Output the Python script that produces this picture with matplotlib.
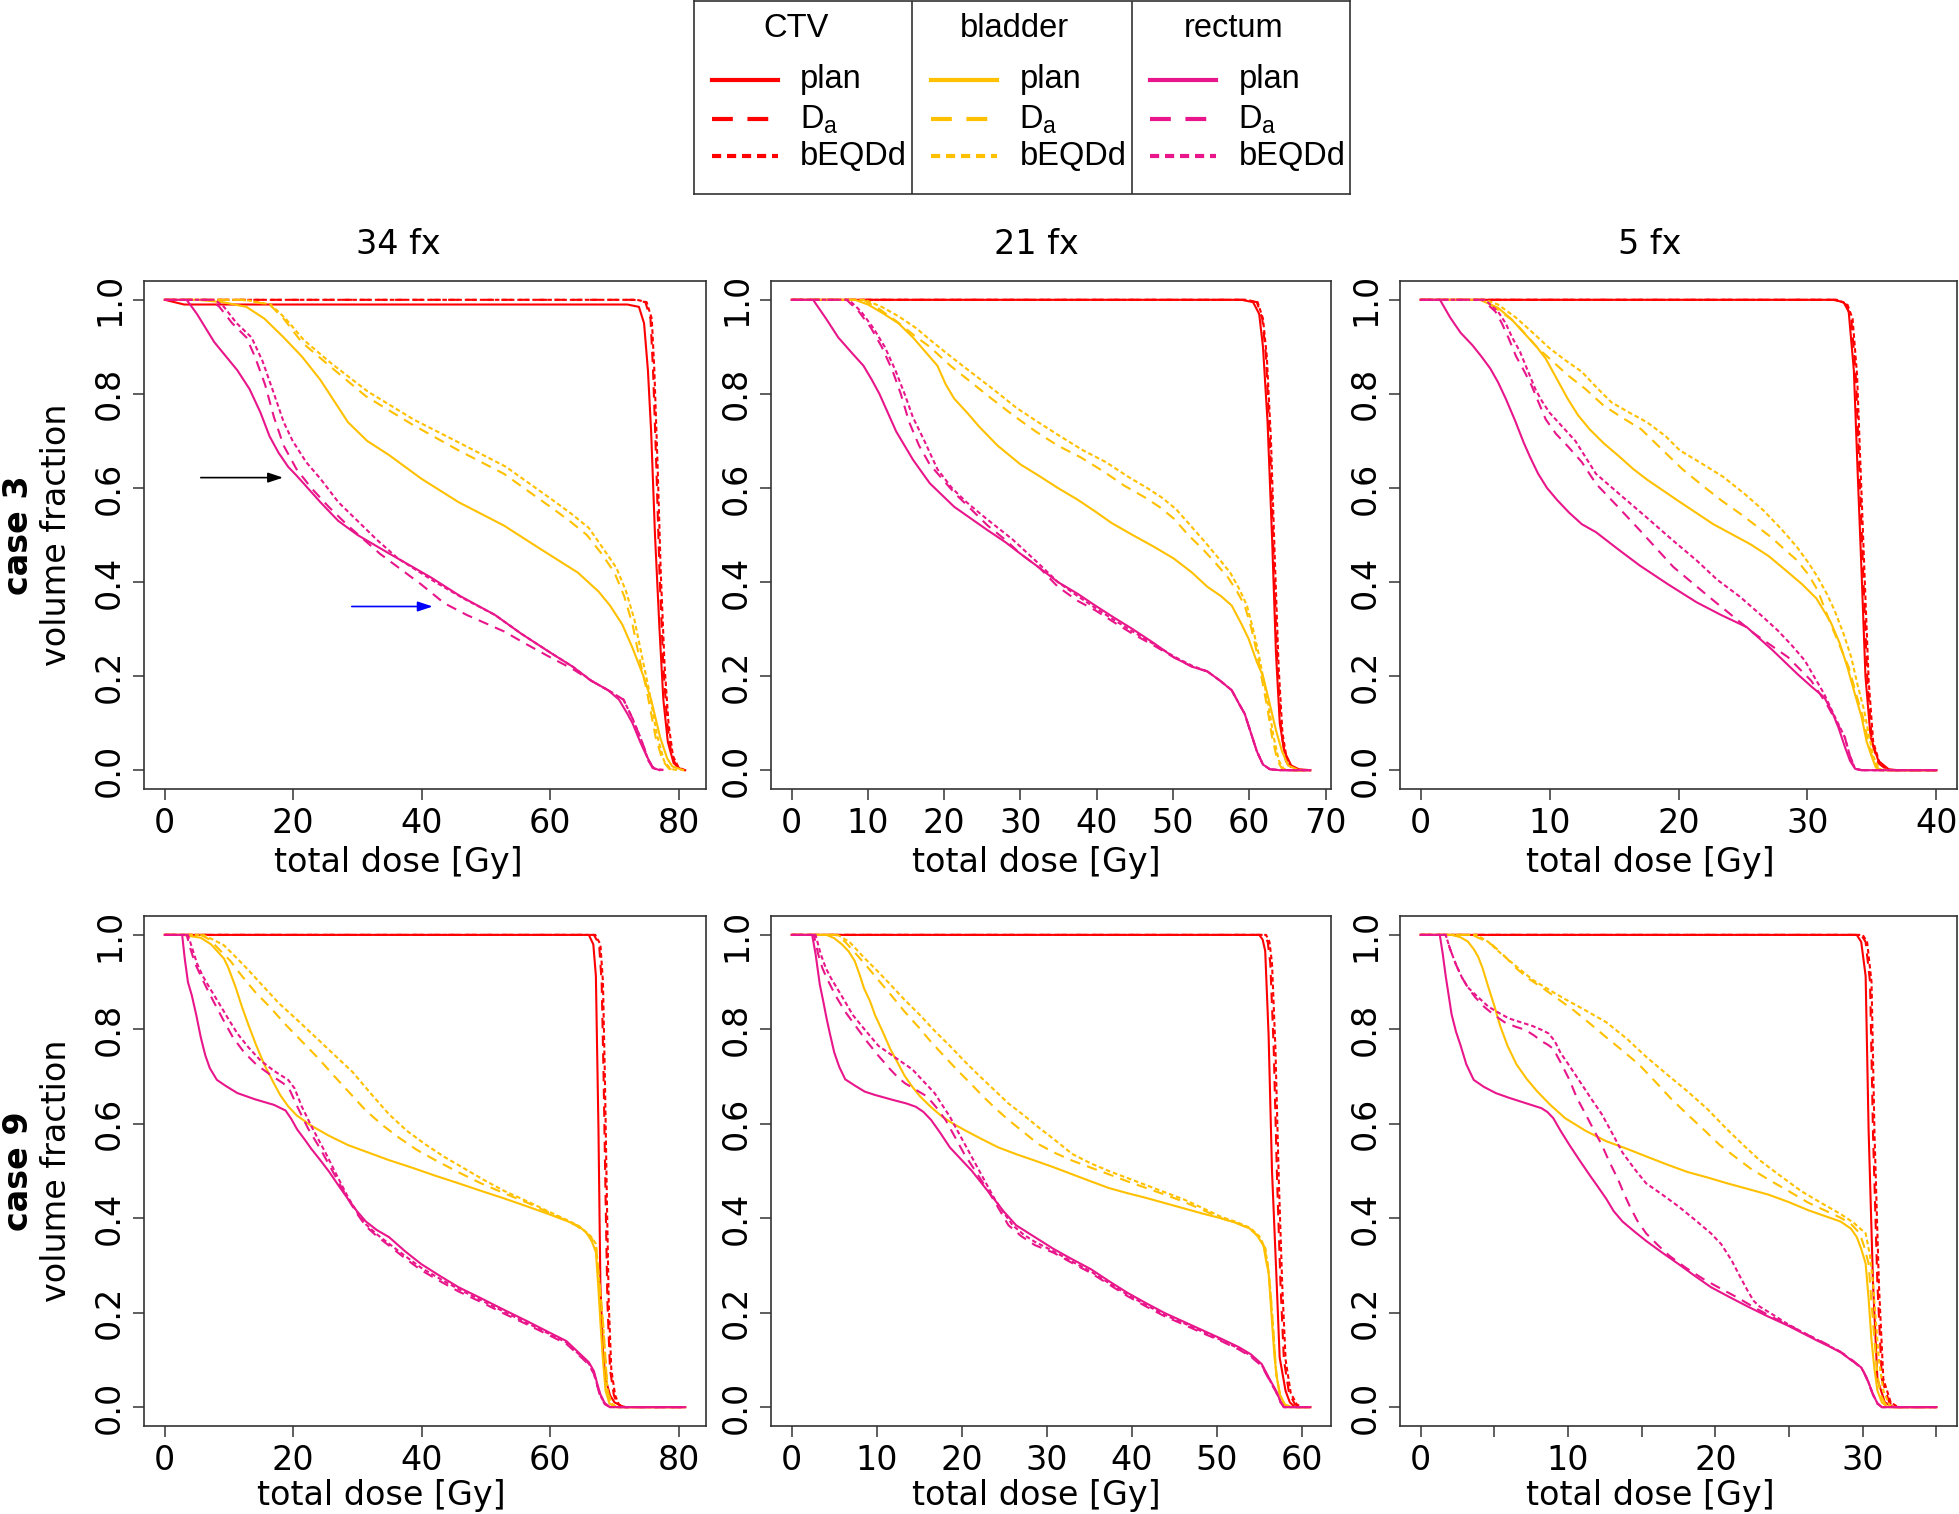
import matplotlib
matplotlib.use("Agg")
import matplotlib.pyplot as plt

# ---- data: cumulative DVHs, (dose [Gy], volume fraction) ----
# case 3, 34 fx
c3_34_ctv_plan = [(0, 1), (3, 0.99), (72, 0.99), (73.8, 0.985), (74.6, 0.95), (75.2, 0.85), (75.7, 0.72), (76.3, 0.5), (77, 0.3), (77.6, 0.15), (78.3, 0.06), (79.2, 0.015), (80.3, 0.002), (81, 0)]
c3_34_ctv_da = [(0, 1), (73, 1), (74.8, 0.995), (75.6, 0.96), (76, 0.85), (76.5, 0.65), (77, 0.42), (77.6, 0.22), (78.2, 0.1), (78.9, 0.03), (79.8, 0.005), (80.5, 0), (81, 0)]
c3_34_ctv_bq = [(0, 1), (73.5, 1), (75, 0.995), (75.8, 0.96), (76.2, 0.85), (76.7, 0.65), (77.2, 0.42), (77.8, 0.22), (78.4, 0.1), (79.1, 0.03), (80, 0.005), (81, 0)]
c3_34_bl_plan = [(0, 1), (5, 1), (9, 0.995), (12.7, 0.985), (15.5, 0.96), (18.5, 0.92), (21.3, 0.88), (24.2, 0.83), (28.5, 0.74), (31.5, 0.7), (34.9, 0.67), (39.9, 0.62), (45.7, 0.57), (52.8, 0.52), (58.5, 0.47), (64.3, 0.42), (67.5, 0.38), (69.3, 0.35), (71.2, 0.31), (72.8, 0.26), (74.5, 0.2), (75.7, 0.15), (77.1, 0.07), (78.2, 0.025), (79, 0.008), (80.7, 0)]
c3_34_bl_da = [(0, 1), (12, 1), (16.3, 0.99), (18.5, 0.96), (21.3, 0.91), (25.6, 0.86), (31.3, 0.795), (38.5, 0.735), (45.7, 0.68), (52.8, 0.63), (60, 0.56), (63, 0.53), (65.7, 0.5), (68, 0.46), (70, 0.42), (71.5, 0.37), (72.8, 0.31), (74, 0.23), (75, 0.17), (76.4, 0.07), (77.5, 0.02), (78.5, 0.003), (79.5, 0)]
c3_34_bl_bq = [(0, 1), (12.5, 1), (16.5, 0.99), (18.8, 0.96), (21.6, 0.915), (25.9, 0.865), (31.6, 0.805), (38.8, 0.745), (46, 0.695), (53.1, 0.645), (60.3, 0.575), (63.3, 0.545), (66, 0.515), (68.3, 0.47), (70.3, 0.43), (71.8, 0.38), (73.1, 0.32), (74.3, 0.24), (75.3, 0.175), (76.6, 0.075), (77.7, 0.02), (78.7, 0.003), (79.8, 0)]
c3_34_re_plan = [(0, 1), (3.4, 1), (5, 0.97), (7.7, 0.91), (11.3, 0.85), (13.2, 0.81), (14.9, 0.76), (16.3, 0.71), (17.7, 0.675), (19.2, 0.645), (20.6, 0.625), (24.2, 0.57), (27, 0.53), (30, 0.5), (35, 0.46), (41.4, 0.41), (46, 0.37), (51.4, 0.33), (55.5, 0.29), (60, 0.25), (63.5, 0.22), (66.4, 0.19), (69, 0.17), (70.7, 0.15), (72, 0.12), (72.8, 0.1), (74, 0.06), (75, 0.03), (76, 0.005), (77, 0)]
c3_34_re_da = [(0, 1), (7.2, 1), (8.5, 0.985), (10.5, 0.95), (12.7, 0.92), (14, 0.88), (15.6, 0.82), (17, 0.75), (18.5, 0.69), (20.5, 0.64), (22.8, 0.6), (25.5, 0.56), (28.5, 0.52), (33.5, 0.46), (39.9, 0.395), (43.5, 0.355), (47, 0.33), (52.8, 0.295), (56, 0.27), (60, 0.24), (63.5, 0.215), (66.4, 0.19), (69, 0.17), (71.4, 0.15), (72.8, 0.11), (74.3, 0.06), (75.3, 0.02), (76, 0.003), (77.5, 0)]
c3_34_re_bq = [(0, 1), (7.8, 1), (9.2, 0.985), (11.2, 0.95), (13.5, 0.92), (15.2, 0.87), (17, 0.8), (18.5, 0.74), (19.9, 0.7), (22, 0.655), (24.2, 0.62), (27, 0.57), (30, 0.53), (33, 0.49), (36.3, 0.45), (42.1, 0.4), (46.5, 0.365), (51.4, 0.33), (55.5, 0.29), (60, 0.25), (63.5, 0.22), (66.4, 0.19), (69, 0.17), (71.4, 0.15), (72.8, 0.11), (74.3, 0.06), (75.3, 0.02), (76.2, 0.003), (78, 0)]

# case 3, 21 fx
c3_21_ctv_plan = [(0, 1), (59, 1), (60.5, 0.995), (61.3, 0.97), (61.8, 0.9), (62.4, 0.74), (63, 0.49), (63.5, 0.25), (64, 0.1), (64.6, 0.04), (65.5, 0.01), (66.5, 0.002), (68, 0)]
c3_21_ctv_da = [(0, 1), (59.5, 1), (61, 0.995), (61.7, 0.96), (62.2, 0.88), (62.7, 0.7), (63.2, 0.45), (63.7, 0.22), (64.2, 0.08), (64.8, 0.02), (65.5, 0), (68, 0)]
c3_21_ctv_bq = [(0, 1), (59.6, 1), (61.1, 0.995), (61.8, 0.96), (62.3, 0.88), (62.85, 0.7), (63.35, 0.45), (63.85, 0.22), (64.35, 0.08), (64.95, 0.02), (65.7, 0), (68, 0)]
c3_21_bl_plan = [(0, 1), (8.3, 1), (10, 0.99), (12.1, 0.97), (14, 0.95), (15.9, 0.92), (17.5, 0.89), (19.1, 0.86), (20.2, 0.82), (21.3, 0.79), (23, 0.76), (24.6, 0.73), (27, 0.69), (30, 0.65), (32.5, 0.625), (34.9, 0.6), (37.5, 0.575), (39.8, 0.55), (42, 0.525), (44.7, 0.5), (47.5, 0.475), (50.1, 0.45), (52.5, 0.42), (54.5, 0.39), (56.3, 0.37), (57.7, 0.35), (59, 0.31), (59.9, 0.28), (61, 0.23), (61.8, 0.2), (62.7, 0.14), (63.5, 0.085), (64.3, 0.04), (65.1, 0.01), (66.5, 0), (68, 0)]
c3_21_bl_da = [(0, 1), (9.4, 1), (11.5, 0.98), (13.7, 0.955), (16, 0.925), (18.1, 0.9), (20.8, 0.86), (23.5, 0.825), (26.2, 0.79), (29, 0.755), (32, 0.72), (34.9, 0.69), (37.9, 0.665), (40.9, 0.635), (43.6, 0.605), (46.3, 0.58), (48.2, 0.56), (50.1, 0.535), (52, 0.5), (53.9, 0.47), (55.6, 0.44), (57.2, 0.41), (58.4, 0.38), (59.4, 0.35), (60.3, 0.3), (61, 0.25), (61.7, 0.19), (62.4, 0.13), (63, 0.07), (63.7, 0.02), (64.3, 0.003), (65, 0), (68, 0)]
c3_21_bl_bq = [(0, 1), (9.6, 1), (11.8, 0.985), (14, 0.965), (16.3, 0.94), (18.5, 0.91), (21.2, 0.875), (24, 0.84), (26.8, 0.805), (29.5, 0.77), (32.3, 0.74), (35.2, 0.71), (38.2, 0.68), (41.2, 0.655), (44, 0.625), (46.6, 0.6), (48.5, 0.58), (50.4, 0.555), (52.3, 0.52), (54.2, 0.485), (56, 0.45), (57.5, 0.42), (58.7, 0.385), (59.7, 0.35), (60.5, 0.3), (61.2, 0.25), (61.9, 0.19), (62.6, 0.13), (63.2, 0.07), (63.9, 0.02), (64.5, 0.003), (65.3, 0), (68, 0)]
c3_21_re_plan = [(0, 1), (2.8, 1), (4.5, 0.96), (6.1, 0.92), (8, 0.885), (9.4, 0.86), (10.5, 0.83), (11.5, 0.8), (12.6, 0.76), (13.7, 0.72), (14.8, 0.69), (15.9, 0.66), (17, 0.635), (18.1, 0.61), (19.7, 0.585), (21.3, 0.56), (23.5, 0.535), (25.7, 0.51), (28, 0.485), (30, 0.46), (32.5, 0.43), (34.9, 0.4), (37.5, 0.375), (39.8, 0.35), (42.2, 0.325), (44.7, 0.3), (47.5, 0.27), (50.1, 0.24), (52.5, 0.22), (54.5, 0.21), (56.2, 0.19), (57.7, 0.17), (58.7, 0.14), (59.4, 0.12), (60.2, 0.08), (61, 0.04), (61.8, 0.012), (62.7, 0.002), (64, 0), (68, 0)]
c3_21_re_da = [(0, 1), (7.2, 1), (8.8, 0.975), (10.4, 0.94), (11.8, 0.9), (13.2, 0.85), (14.3, 0.8), (15.4, 0.74), (16.7, 0.69), (18.1, 0.65), (19.7, 0.62), (21.3, 0.59), (23.5, 0.555), (25.7, 0.52), (28, 0.49), (30, 0.46), (32.5, 0.43), (34.9, 0.39), (37.5, 0.36), (39.8, 0.34), (42.2, 0.315), (44.7, 0.29), (47.5, 0.265), (50.1, 0.24), (52.5, 0.22), (54.5, 0.21), (56.2, 0.19), (57.7, 0.17), (58.7, 0.14), (59.4, 0.12), (60.2, 0.08), (61, 0.04), (61.8, 0.012), (62.7, 0.002), (64, 0), (68, 0)]
c3_21_re_bq = [(0, 1), (7.5, 1), (9.1, 0.975), (10.7, 0.94), (12.2, 0.9), (13.6, 0.85), (14.8, 0.8), (15.9, 0.75), (17.4, 0.7), (19.1, 0.64), (21, 0.6), (22.9, 0.57), (25.5, 0.535), (29, 0.49), (32, 0.445), (34.9, 0.4), (37.5, 0.37), (39.8, 0.345), (42.2, 0.32), (44.7, 0.295), (47.5, 0.268), (50.1, 0.242), (52.5, 0.222), (54.5, 0.21), (56.2, 0.19), (57.7, 0.17), (58.7, 0.14), (59.4, 0.12), (60.2, 0.08), (61, 0.04), (61.8, 0.012), (62.7, 0.002), (64, 0), (68, 0)]

# case 3, 5 fx
c3_5_ctv_plan = [(0, 1), (32, 1), (32.8, 0.995), (33.2, 0.975), (33.6, 0.85), (33.9, 0.63), (34.2, 0.42), (34.5, 0.2), (34.9, 0.07), (35.5, 0.02), (36.3, 0.002), (37, 0), (40, 0)]
c3_5_ctv_da = [(0, 1), (32.2, 1), (33, 0.99), (33.4, 0.96), (33.75, 0.84), (34.05, 0.62), (34.35, 0.4), (34.65, 0.19), (35, 0.06), (35.5, 0.015), (36.2, 0), (40, 0)]
c3_5_ctv_bq = [(0, 1), (32.3, 1), (33.1, 0.99), (33.5, 0.96), (33.85, 0.84), (34.15, 0.62), (34.45, 0.4), (34.75, 0.19), (35.1, 0.06), (35.6, 0.015), (36.3, 0), (40, 0)]
c3_5_bl_plan = [(0, 1), (4.6, 1), (6, 0.983), (7, 0.96), (8, 0.93), (9, 0.9), (9.7, 0.875), (10.6, 0.83), (11.4, 0.79), (12.2, 0.755), (13.1, 0.725), (14.2, 0.695), (15.4, 0.667), (16.5, 0.64), (17.6, 0.617), (19.9, 0.574), (22.7, 0.523), (25.6, 0.48), (27, 0.455), (28.4, 0.423), (29.6, 0.395), (30.7, 0.365), (31.8, 0.315), (32.5, 0.27), (33.1, 0.219), (33.7, 0.16), (34.2, 0.113), (34.6, 0.06), (35, 0.028), (35.3, 0.006), (35.6, 0), (40, 0)]
c3_5_bl_da = [(0, 1), (4.8, 1), (5.2, 0.994), (6.2, 0.975), (7.2, 0.955), (8.2, 0.925), (9.1, 0.897), (10.2, 0.87), (11.4, 0.84), (12.8, 0.81), (14.2, 0.775), (15.6, 0.75), (17.1, 0.725), (18.6, 0.685), (20.3, 0.64), (22, 0.602), (23.4, 0.572), (24.8, 0.545), (26, 0.52), (27.2, 0.495), (28.2, 0.47), (29.2, 0.446), (30.1, 0.415), (30.8, 0.382), (31.8, 0.311), (32.5, 0.265), (33.2, 0.219), (33.8, 0.16), (34.3, 0.113), (34.8, 0.05), (35.1, 0.02), (35.5, 0.003), (35.8, 0), (40, 0)]
c3_5_bl_bq = [(0, 1), (5, 1), (6, 0.99), (7.4, 0.962), (8.7, 0.93), (10, 0.897), (11.2, 0.872), (12.5, 0.847), (13.6, 0.815), (14.8, 0.782), (16.2, 0.76), (17.6, 0.739), (19, 0.71), (20.1, 0.68), (21.8, 0.652), (23.5, 0.623), (25.1, 0.588), (26.6, 0.552), (28, 0.512), (29.2, 0.474), (30.1, 0.44), (30.8, 0.41), (31.5, 0.375), (32.1, 0.34), (32.8, 0.29), (33.4, 0.24), (33.9, 0.18), (34.4, 0.127), (34.8, 0.07), (35.1, 0.03), (35.5, 0.005), (35.8, 0), (40, 0)]
c3_5_re_plan = [(0, 1), (1.5, 1), (2.3, 0.962), (3.1, 0.93), (4, 0.904), (4.7, 0.88), (5.4, 0.854), (6, 0.825), (6.6, 0.79), (7.3, 0.745), (8, 0.696), (8.5, 0.665), (9.1, 0.631), (9.8, 0.6), (10.6, 0.574), (11.5, 0.548), (12.5, 0.523), (13.6, 0.506), (15.3, 0.47), (17, 0.435), (19.2, 0.395), (21.4, 0.357), (23.3, 0.33), (25.3, 0.304), (27.3, 0.255), (29.2, 0.205), (30.3, 0.178), (31.3, 0.155), (31.9, 0.125), (32.4, 0.091), (32.9, 0.05), (33.3, 0.02), (33.7, 0.003), (34.2, 0), (40, 0)]
c3_5_re_da = [(0, 1), (4.8, 1), (5.2, 0.99), (5.8, 0.975), (6.3, 0.95), (6.8, 0.92), (7.4, 0.88), (8, 0.85), (8.6, 0.818), (9.1, 0.785), (9.7, 0.746), (10.5, 0.715), (11.4, 0.689), (12.5, 0.655), (13.6, 0.609), (15.3, 0.56), (17, 0.51), (19.6, 0.432), (22.7, 0.361), (25.9, 0.29), (28.5, 0.24), (30.3, 0.19), (31.5, 0.14), (32.3, 0.1), (32.9, 0.07), (33.3, 0.03), (33.7, 0.003), (34.2, 0), (40, 0)]
c3_5_re_bq = [(0, 1), (5, 1), (5.4, 0.99), (6, 0.975), (6.6, 0.95), (7.1, 0.92), (7.7, 0.89), (8.3, 0.85), (8.9, 0.81), (9.4, 0.785), (10, 0.76), (11, 0.73), (12, 0.7), (13.6, 0.63), (15.5, 0.585), (17.5, 0.538), (19.5, 0.49), (21.4, 0.446), (23, 0.405), (24.8, 0.368), (26.3, 0.332), (27.7, 0.297), (28.8, 0.265), (29.8, 0.233), (30.6, 0.195), (31.3, 0.162), (32.1, 0.115), (32.9, 0.07), (33.3, 0.03), (33.7, 0.003), (34.2, 0), (40, 0)]

# case 9, 34 fx
c9_34_ctv_plan = [(0, 1), (66, 1), (66.7, 0.98), (67.1, 0.913), (67.3, 0.75), (67.5, 0.59), (67.8, 0.26), (68.2, 0.12), (68.6, 0.06), (69.3, 0.025), (70, 0.01), (71.4, 0), (81, 0)]
c9_34_ctv_da = [(0, 1), (66.8, 1), (67.6, 0.98), (68, 0.9), (68.3, 0.7), (68.6, 0.45), (68.9, 0.22), (69.3, 0.08), (69.9, 0.025), (70.5, 0.005), (71.5, 0), (81, 0)]
c9_34_ctv_bq = [(0, 1), (67, 1), (67.8, 0.98), (68.2, 0.9), (68.5, 0.7), (68.8, 0.45), (69.1, 0.22), (69.5, 0.08), (70.1, 0.025), (70.7, 0.005), (71.7, 0), (81, 0)]
c9_34_bl_plan = [(0, 1), (2.7, 1), (5.6, 0.994), (7.2, 0.98), (8.4, 0.962), (9.2, 0.95), (9.9, 0.93), (11, 0.89), (12, 0.848), (13, 0.81), (14.2, 0.767), (15.5, 0.725), (17, 0.685), (18, 0.66), (19.2, 0.637), (20.5, 0.618), (22.8, 0.596), (25.5, 0.575), (28.5, 0.555), (31.5, 0.54), (34.9, 0.523), (38.5, 0.507), (42.1, 0.49), (45.5, 0.475), (49.2, 0.458), (52.8, 0.442), (56.4, 0.425), (59.5, 0.41), (62.8, 0.393), (64.5, 0.383), (65.7, 0.368), (66.5, 0.35), (67.1, 0.328), (67.5, 0.25), (67.8, 0.18), (68.2, 0.1), (68.6, 0.035), (69.2, 0.008), (70, 0), (81, 0)]
c9_34_bl_da = [(0, 1), (5.6, 1), (7, 0.99), (8.4, 0.97), (10.2, 0.945), (12, 0.913), (14, 0.88), (16.3, 0.848), (18.8, 0.81), (21.3, 0.775), (23.8, 0.74), (26.3, 0.702), (28.8, 0.665), (31.3, 0.628), (33.8, 0.598), (36.3, 0.572), (39.2, 0.545), (42.1, 0.523), (45.6, 0.498), (49.2, 0.474), (52.8, 0.453), (56.4, 0.433), (59.6, 0.413), (62.8, 0.393), (64.2, 0.383), (65.3, 0.372), (66.3, 0.36), (67.1, 0.344), (67.6, 0.27), (68.2, 0.18), (68.6, 0.1), (68.9, 0.035), (69.5, 0.008), (70.3, 0), (81, 0)]
c9_34_bl_bq = [(0, 1), (6, 1), (7.5, 0.99), (9.2, 0.978), (10.9, 0.955), (12.7, 0.93), (15.2, 0.893), (17.7, 0.856), (20.6, 0.82), (23.5, 0.783), (26.3, 0.747), (29.2, 0.71), (32, 0.665), (34.9, 0.62), (37.7, 0.585), (40.6, 0.556), (43.5, 0.53), (46.4, 0.507), (49.8, 0.48), (52.8, 0.458), (56.4, 0.436), (59.6, 0.415), (62.8, 0.395), (64.2, 0.385), (65.3, 0.374), (66.3, 0.362), (67.1, 0.346), (67.6, 0.27), (68.2, 0.18), (68.6, 0.1), (68.9, 0.035), (69.5, 0.008), (70.3, 0), (81, 0)]
c9_34_re_plan = [(0, 1), (2.7, 1), (3.1, 0.95), (3.6, 0.9), (4.2, 0.872), (4.9, 0.83), (5.6, 0.783), (6.3, 0.745), (7, 0.718), (8.1, 0.693), (9.5, 0.68), (11.3, 0.665), (14, 0.652), (17, 0.64), (18.8, 0.628), (19.7, 0.61), (20.6, 0.588), (21.7, 0.568), (22.8, 0.547), (24.2, 0.523), (25.6, 0.498), (27, 0.47), (28.5, 0.441), (29.9, 0.415), (31.3, 0.393), (33, 0.375), (34.9, 0.36), (37.4, 0.33), (39.9, 0.303), (42.8, 0.278), (45.7, 0.254), (49.3, 0.23), (52.8, 0.206), (56.4, 0.182), (60, 0.157), (62.5, 0.14), (65, 0.108), (66, 0.095), (66.8, 0.076), (67.3, 0.05), (67.8, 0.027), (68.5, 0.008), (69.3, 0), (81, 0)]
c9_34_re_da = [(0, 1), (3.4, 1), (4, 0.97), (4.7, 0.94), (5.6, 0.913), (6.6, 0.885), (7.7, 0.856), (9.1, 0.82), (10.6, 0.783), (12.3, 0.752), (14.2, 0.726), (16.3, 0.705), (18.5, 0.685), (19.5, 0.67), (20.6, 0.637), (22.3, 0.59), (24.2, 0.547), (26.3, 0.495), (28.5, 0.441), (29.9, 0.41), (31.3, 0.383), (33, 0.362), (34.9, 0.342), (37.4, 0.315), (39.9, 0.29), (42.8, 0.267), (45.7, 0.245), (49.3, 0.222), (52.8, 0.198), (56.4, 0.175), (60, 0.151), (62.5, 0.134), (65, 0.103), (66, 0.09), (66.8, 0.07), (67.3, 0.045), (67.8, 0.022), (68.5, 0.006), (69.3, 0), (81, 0)]
c9_34_re_bq = [(0, 1), (3.6, 1), (4.3, 0.97), (5, 0.94), (5.9, 0.913), (7.1, 0.885), (8.4, 0.856), (9.8, 0.824), (11.3, 0.791), (13, 0.762), (14.9, 0.734), (17, 0.712), (19.2, 0.693), (20.2, 0.675), (21.3, 0.637), (23, 0.59), (25, 0.539), (26.8, 0.49), (28.5, 0.445), (29.9, 0.413), (31.3, 0.387), (33, 0.366), (34.9, 0.346), (37.4, 0.32), (39.9, 0.295), (42.8, 0.272), (45.7, 0.25), (49.3, 0.226), (52.8, 0.202), (56.4, 0.178), (60, 0.154), (62.5, 0.137), (65, 0.105), (66, 0.092), (66.8, 0.072), (67.3, 0.047), (67.8, 0.024), (68.5, 0.007), (69.3, 0), (81, 0)]

# case 9, 21 fx
c9_21_ctv_plan = [(0, 1), (55, 1), (55.4, 0.99), (55.7, 0.966), (56.1, 0.787), (56.5, 0.5), (57, 0.285), (57.4, 0.105), (58.1, 0.034), (58.6, 0.01), (59.2, 0), (61, 0)]
c9_21_ctv_da = [(0, 1), (55.6, 1), (56, 0.985), (56.3, 0.94), (56.7, 0.76), (57.1, 0.48), (57.5, 0.26), (57.9, 0.1), (58.5, 0.03), (59.2, 0.006), (59.8, 0), (61, 0)]
c9_21_ctv_bq = [(0, 1), (55.8, 1), (56.2, 0.985), (56.5, 0.94), (56.9, 0.76), (57.3, 0.48), (57.7, 0.26), (58.1, 0.1), (58.7, 0.03), (59.4, 0.006), (60, 0), (61, 0)]
c9_21_bl_plan = [(0, 1), (4.1, 1), (5, 0.993), (5.9, 0.98), (6.7, 0.965), (7.4, 0.945), (8, 0.915), (8.5, 0.887), (9.2, 0.86), (9.8, 0.83), (10.7, 0.795), (11.6, 0.758), (12.5, 0.728), (13.3, 0.701), (14.2, 0.678), (15.1, 0.658), (16.4, 0.635), (17.7, 0.615), (19, 0.6), (20.4, 0.586), (22.3, 0.568), (24.3, 0.55), (26.5, 0.535), (28.6, 0.522), (30.8, 0.508), (33, 0.493), (35.2, 0.478), (37.3, 0.464), (39.5, 0.453), (41.7, 0.443), (43.9, 0.432), (46.1, 0.421), (48.3, 0.41), (50.5, 0.4), (52.3, 0.39), (53.9, 0.378), (54.8, 0.362), (55.5, 0.342), (55.8, 0.31), (56.1, 0.285), (56.5, 0.18), (56.8, 0.105), (57.1, 0.06), (57.4, 0.027), (58, 0.006), (58.8, 0), (61, 0)]
c9_21_bl_da = [(0, 1), (5.2, 1), (6.3, 0.985), (7.6, 0.959), (9, 0.93), (10.3, 0.902), (11.8, 0.87), (13.3, 0.837), (14.9, 0.805), (16.4, 0.773), (17.9, 0.744), (19.4, 0.715), (21, 0.686), (22.5, 0.658), (24, 0.632), (25.5, 0.608), (27.3, 0.582), (29, 0.557), (31, 0.538), (33, 0.522), (35.2, 0.507), (37.3, 0.493), (39.5, 0.478), (41.7, 0.464), (43.9, 0.45), (46.1, 0.435), (48.3, 0.418), (50.5, 0.4), (52.3, 0.39), (53.9, 0.378), (55, 0.36), (55.7, 0.335), (56, 0.3), (56.3, 0.249), (56.7, 0.15), (57, 0.07), (57.4, 0.03), (57.8, 0.008), (58.3, 0), (61, 0)]
c9_21_bl_bq = [(0, 1), (5.4, 1), (6.8, 0.985), (8.5, 0.952), (10, 0.925), (11.6, 0.895), (13.3, 0.862), (15.1, 0.83), (16.8, 0.797), (18.6, 0.765), (20.3, 0.733), (22.1, 0.701), (23.8, 0.672), (25.5, 0.643), (27.3, 0.618), (29, 0.593), (31, 0.565), (33, 0.536), (35.2, 0.516), (37.3, 0.5), (39.5, 0.485), (41.7, 0.47), (43.9, 0.455), (46.1, 0.44), (48.3, 0.422), (50.5, 0.403), (52.3, 0.392), (53.9, 0.38), (55, 0.362), (55.7, 0.337), (56, 0.3), (56.3, 0.249), (56.7, 0.15), (57, 0.07), (57.4, 0.03), (57.8, 0.008), (58.3, 0), (61, 0)]
c9_21_re_plan = [(0, 1), (2.4, 1), (2.8, 0.96), (3.3, 0.895), (3.7, 0.86), (4.1, 0.823), (4.5, 0.79), (5, 0.751), (5.6, 0.72), (6.3, 0.694), (7.5, 0.68), (8.6, 0.668), (9.8, 0.661), (12, 0.65), (13.5, 0.643), (14.6, 0.636), (15.5, 0.625), (16.4, 0.608), (17.5, 0.58), (18.6, 0.55), (19.9, 0.525), (21.2, 0.5), (22.3, 0.475), (23.4, 0.45), (24.9, 0.415), (26.4, 0.385), (28.6, 0.36), (30.8, 0.335), (33, 0.313), (35.2, 0.292), (37.3, 0.267), (39.5, 0.242), (41.7, 0.22), (43.9, 0.199), (46.1, 0.181), (48.3, 0.163), (50.5, 0.145), (52.6, 0.127), (54, 0.112), (55.3, 0.091), (56.2, 0.06), (57, 0.034), (57.5, 0.012), (57.9, 0), (61, 0)]
c9_21_re_da = [(0, 1), (2.6, 1), (3.1, 0.96), (3.6, 0.93), (4.1, 0.909), (5.2, 0.87), (6.3, 0.837), (7.6, 0.805), (8.9, 0.773), (10.2, 0.744), (11.6, 0.715), (12.4, 0.7), (13.3, 0.686), (14.6, 0.672), (15.9, 0.658), (17, 0.635), (18.1, 0.608), (19.2, 0.572), (20.3, 0.536), (21.6, 0.5), (22.9, 0.464), (24.2, 0.425), (25.5, 0.385), (27, 0.362), (28.6, 0.343), (30.8, 0.327), (33, 0.305), (35.2, 0.284), (37.3, 0.26), (39.5, 0.235), (41.7, 0.213), (43.9, 0.192), (46.1, 0.175), (48.3, 0.157), (50.5, 0.14), (52.6, 0.122), (54, 0.107), (55.3, 0.087), (56.2, 0.057), (57, 0.031), (57.5, 0.01), (57.9, 0), (61, 0)]
c9_21_re_bq = [(0, 1), (2.8, 1), (3.4, 0.96), (4, 0.93), (4.6, 0.909), (5.9, 0.87), (7.2, 0.83), (8.7, 0.797), (10.2, 0.765), (12.2, 0.74), (14.2, 0.715), (15.5, 0.69), (16.8, 0.665), (17.7, 0.64), (18.6, 0.615), (19.9, 0.572), (21.2, 0.529), (22.5, 0.486), (23.8, 0.443), (25, 0.41), (26, 0.385), (27.3, 0.365), (28.6, 0.35), (30.8, 0.33), (33, 0.308), (35.2, 0.287), (37.3, 0.263), (39.5, 0.238), (41.7, 0.216), (43.9, 0.195), (46.1, 0.178), (48.3, 0.16), (50.5, 0.142), (52.6, 0.124), (54, 0.109), (55.3, 0.089), (56.2, 0.058), (57, 0.032), (57.5, 0.011), (57.9, 0), (61, 0)]

# case 9, 5 fx
c9_5_ctv_plan = [(0, 1), (29.6, 1), (29.9, 0.985), (30.2, 0.913), (30.4, 0.588), (30.7, 0.263), (31, 0.059), (31.5, 0.01), (32.1, 0), (35, 0)]
c9_5_ctv_da = [(0, 1), (29.9, 1), (30.2, 0.985), (30.5, 0.9), (30.7, 0.58), (31, 0.26), (31.3, 0.06), (31.8, 0.01), (32.3, 0), (35, 0)]
c9_5_ctv_bq = [(0, 1), (30, 1), (30.3, 0.985), (30.6, 0.9), (30.8, 0.58), (31.1, 0.26), (31.4, 0.06), (31.9, 0.01), (32.4, 0), (35, 0)]
c9_5_bl_plan = [(0, 1), (2.1, 1), (2.7, 0.995), (3.2, 0.986), (3.6, 0.97), (3.9, 0.954), (4.2, 0.93), (4.6, 0.889), (5, 0.85), (5.4, 0.807), (5.9, 0.765), (6.5, 0.726), (7.2, 0.695), (7.9, 0.669), (8.8, 0.64), (9.8, 0.612), (11.2, 0.585), (12.6, 0.563), (14, 0.547), (15.3, 0.531), (16.7, 0.514), (18.1, 0.498), (19.5, 0.486), (20.8, 0.474), (22.2, 0.462), (23.6, 0.45), (25, 0.434), (26.3, 0.417), (27.4, 0.405), (28.5, 0.393), (29.2, 0.378), (29.6, 0.36), (29.9, 0.335), (30.2, 0.304), (30.4, 0.23), (30.6, 0.141), (30.8, 0.08), (31, 0.035), (31.3, 0.01), (31.7, 0), (35, 0)]
c9_5_bl_da = [(0, 1), (3.5, 1), (4.2, 0.99), (4.9, 0.978), (5.7, 0.955), (6.5, 0.929), (7.3, 0.908), (8.2, 0.889), (9.3, 0.865), (10.4, 0.84), (11.5, 0.812), (12.6, 0.783), (13.7, 0.755), (14.8, 0.726), (15.9, 0.69), (17, 0.653), (18.1, 0.62), (19.2, 0.588), (20.3, 0.555), (21.3, 0.531), (22.4, 0.505), (23.6, 0.482), (25, 0.457), (26.3, 0.433), (27.4, 0.417), (28.5, 0.401), (29.2, 0.388), (29.8, 0.368), (30.1, 0.34), (30.4, 0.304), (30.6, 0.22), (30.8, 0.141), (31, 0.07), (31.2, 0.027), (31.5, 0.008), (31.8, 0), (35, 0)]
c9_5_bl_bq = [(0, 1), (3.8, 1), (4.6, 0.985), (5.4, 0.962), (6.5, 0.933), (7.6, 0.905), (8.7, 0.884), (9.8, 0.864), (11.2, 0.84), (12.6, 0.815), (14, 0.78), (15.3, 0.742), (16.7, 0.705), (18.1, 0.669), (19.5, 0.63), (20.8, 0.588), (21.9, 0.555), (23, 0.523), (24.4, 0.49), (25.8, 0.458), (27.2, 0.432), (28.5, 0.409), (29.4, 0.39), (30.2, 0.368), (30.5, 0.32), (30.7, 0.263), (30.9, 0.18), (31.1, 0.1), (31.4, 0.035), (31.8, 0.005), (32.1, 0), (35, 0)]
c9_5_re_plan = [(0, 1), (1.3, 1), (1.5, 0.96), (1.7, 0.913), (2.1, 0.832), (2.4, 0.795), (2.7, 0.767), (3.1, 0.726), (3.6, 0.693), (4.3, 0.678), (5.1, 0.665), (6, 0.655), (7.1, 0.644), (8.2, 0.633), (8.6, 0.625), (9, 0.612), (9.5, 0.585), (10.1, 0.555), (10.8, 0.522), (11.5, 0.49), (12, 0.468), (12.6, 0.441), (13.1, 0.415), (13.7, 0.393), (14.5, 0.372), (15.3, 0.352), (16.4, 0.327), (17.5, 0.303), (18.6, 0.278), (19.7, 0.254), (20.9, 0.234), (22.2, 0.213), (23.5, 0.193), (24.9, 0.173), (25.9, 0.157), (26.9, 0.141), (27.7, 0.129), (28.5, 0.116), (29.2, 0.1), (29.9, 0.084), (30.3, 0.06), (30.7, 0.027), (31, 0.008), (31.3, 0), (35, 0)]
c9_5_re_da = [(0, 1), (1.7, 1), (2, 0.97), (2.4, 0.937), (2.8, 0.91), (3.2, 0.889), (3.7, 0.868), (4.3, 0.848), (5, 0.83), (5.7, 0.815), (6.4, 0.806), (7.1, 0.799), (7.7, 0.787), (8.2, 0.775), (8.6, 0.768), (9, 0.759), (9.5, 0.73), (10.1, 0.693), (10.6, 0.655), (11.2, 0.62), (11.7, 0.59), (12.3, 0.555), (12.8, 0.52), (13.4, 0.482), (13.8, 0.452), (14.2, 0.425), (14.7, 0.395), (15.3, 0.368), (16.1, 0.343), (16.9, 0.32), (18, 0.295), (19.2, 0.271), (20.3, 0.252), (21.5, 0.232), (22.7, 0.21), (23.9, 0.19), (25.2, 0.17), (26.2, 0.154), (27.2, 0.139), (28, 0.126), (28.7, 0.113), (29.4, 0.097), (30, 0.08), (30.3, 0.058), (30.7, 0.026), (31, 0.007), (31.3, 0), (35, 0)]
c9_5_re_bq = [(0, 1), (1.7, 1), (2, 0.97), (2.4, 0.937), (2.8, 0.91), (3.2, 0.889), (3.9, 0.868), (4.6, 0.848), (5.3, 0.835), (6, 0.823), (6.8, 0.815), (7.6, 0.807), (8.2, 0.799), (8.7, 0.791), (9.1, 0.775), (9.5, 0.75), (10.2, 0.718), (10.9, 0.685), (11.6, 0.652), (12.3, 0.62), (13, 0.58), (13.7, 0.539), (14.5, 0.505), (15.3, 0.474), (16.4, 0.45), (17.5, 0.425), (18.6, 0.397), (19.7, 0.368), (20.4, 0.345), (21.1, 0.311), (21.7, 0.275), (22.2, 0.246), (22.6, 0.225), (23, 0.213), (24, 0.194), (24.9, 0.176), (25.9, 0.159), (26.9, 0.143), (27.7, 0.13), (28.5, 0.117), (29.2, 0.1), (29.9, 0.084), (30.3, 0.06), (30.7, 0.027), (31, 0.008), (31.3, 0), (35, 0)]

fx_titles = ["34 fx", "21 fx", "5 fx"]
case_labels = ["case 3", "case 9"]
structures = ["CTV", "bladder", "rectum"]
variants = ["plan", r"$\mathregular{D_a}$", "bEQDd"]

# annotation arrows in the case 3 / 34 fx panel: (x_start, x_end, y)
black_arrow = (5.6, 18.4, 0.622)
blue_arrow = (29.1, 41.7, 0.348)

# ---- styling ----
colors = {"CTV": "#FF0000", "bladder": "#FFC000", "rectum": "#E8168A"}
dash_styles = ["-", (0, (5, 3.5)), (0, (2.2, 1.4))]
LW = 1.5

panels = [
    dict(curves={"CTV": [c3_34_ctv_plan, c3_34_ctv_da, c3_34_ctv_bq],
                 "bladder": [c3_34_bl_plan, c3_34_bl_da, c3_34_bl_bq],
                 "rectum": [c3_34_re_plan, c3_34_re_da, c3_34_re_bq]},
         xmax=81, xticks=[0, 20, 40, 60, 80], xlabels=None),
    dict(curves={"CTV": [c3_21_ctv_plan, c3_21_ctv_da, c3_21_ctv_bq],
                 "bladder": [c3_21_bl_plan, c3_21_bl_da, c3_21_bl_bq],
                 "rectum": [c3_21_re_plan, c3_21_re_da, c3_21_re_bq]},
         xmax=68, xticks=list(range(0, 71, 10)), xlabels=None),
    dict(curves={"CTV": [c3_5_ctv_plan, c3_5_ctv_da, c3_5_ctv_bq],
                 "bladder": [c3_5_bl_plan, c3_5_bl_da, c3_5_bl_bq],
                 "rectum": [c3_5_re_plan, c3_5_re_da, c3_5_re_bq]},
         xmax=40, xticks=[0, 10, 20, 30, 40], xlabels=None),
    dict(curves={"CTV": [c9_34_ctv_plan, c9_34_ctv_da, c9_34_ctv_bq],
                 "bladder": [c9_34_bl_plan, c9_34_bl_da, c9_34_bl_bq],
                 "rectum": [c9_34_re_plan, c9_34_re_da, c9_34_re_bq]},
         xmax=81, xticks=[0, 20, 40, 60, 80], xlabels=None),
    dict(curves={"CTV": [c9_21_ctv_plan, c9_21_ctv_da, c9_21_ctv_bq],
                 "bladder": [c9_21_bl_plan, c9_21_bl_da, c9_21_bl_bq],
                 "rectum": [c9_21_re_plan, c9_21_re_da, c9_21_re_bq]},
         xmax=61, xticks=list(range(0, 61, 10)), xlabels=None),
    dict(curves={"CTV": [c9_5_ctv_plan, c9_5_ctv_da, c9_5_ctv_bq],
                 "bladder": [c9_5_bl_plan, c9_5_bl_da, c9_5_bl_bq],
                 "rectum": [c9_5_re_plan, c9_5_re_da, c9_5_re_bq]},
         xmax=35, xticks=list(range(0, 36, 5)),
         xlabels=["0", "", "10", "", "20", "", "30", ""]),
]

W, H = 1959, 1514
plt.rcParams["font.family"] = "DejaVu Sans"
fig = plt.figure(figsize=(W / 100, H / 100), dpi=100)

col_px = [(144, 706), (771, 1331), (1400, 1957)]
row_px = [(281, 789), (916, 1426)]
# text centres (px) for column titles and x labels, per row
label_cx = [[398, 1036, 1650], [381, 1036, 1650]]
xlabel_y = [862, 1496]

axes = []
for i, p in enumerate(panels):
    r, c = divmod(i, 3)
    x0, x1 = col_px[c]
    y0, y1 = row_px[r]
    ax = fig.add_axes([x0 / W, 1 - y1 / H, (x1 - x0) / W, (y1 - y0) / H])
    for s in structures:
        for k, curve in enumerate(p["curves"][s]):
            d = [pt[0] for pt in curve]
            v = [pt[1] for pt in curve]
            ax.plot(d, v, color=colors[s], lw=LW, linestyle=dash_styles[k])
    xm = p["xmax"]
    ax.set_xlim(-0.04 * xm, 1.04 * xm)
    ax.set_ylim(-0.04, 1.04)
    ax.set_xticks(p["xticks"])
    if p["xlabels"] is not None:
        ax.set_xticklabels(p["xlabels"])
    ax.set_yticks([0, 0.2, 0.4, 0.6, 0.8, 1.0])
    ax.set_yticklabels(["0.0", "0.2", "0.4", "0.6", "0.8", "1.0"])
    ax.tick_params(direction="out", length=8, width=1.1, color="#333333",
                   labelsize=24, pad=5)
    for lab in ax.get_yticklabels():
        lab.set_rotation(90)
        lab.set_verticalalignment("center")
    for sp in ax.spines.values():
        sp.set_color("#333333")
        sp.set_linewidth(1.2)
    fig.text(label_cx[r][c] / W, 1 - xlabel_y[r] / H, "total dose [Gy]",
             ha="center", va="center", fontsize=24)
    axes.append(ax)

# column titles
for c, t in enumerate(fx_titles):
    fig.text(label_cx[0][c] / W, 1 - 244 / H, t, ha="center", va="center", fontsize=24)

# row labels
for r, t in enumerate(case_labels):
    y0, y1 = row_px[r]
    yc = 1 - (y0 + y1) / 2 / H
    fig.text(56 / W, yc, "volume fraction", rotation=90, ha="center", va="center", fontsize=24)
    fig.text(19 / W, yc, t, rotation=90, ha="center", va="center", fontsize=24, fontweight="bold")

# arrows in first panel
ax0 = axes[0]
for (xa, xb, ya), col in [(black_arrow, "black"), (blue_arrow, "#0000FF")]:
    ax0.annotate("", xy=(xb, ya), xytext=(xa, ya),
                 arrowprops=dict(arrowstyle="-|>,head_length=0.9,head_width=0.3",
                                 color=col, lw=1.2, shrinkA=0, shrinkB=0))

# legend box
lax = fig.add_axes([694 / W, 1 - 194 / H, 656 / W, 193 / H])
lax.set_xlim(0, 1)
lax.set_ylim(0, 1)
lax.set_xticks([])
lax.set_yticks([])
for sp in lax.spines.values():
    sp.set_color("#333333")
    sp.set_linewidth(1.2)
for xd in (0.333, 0.667):
    lax.axvline(xd, color="#333333", lw=1.2)
row_y = [0.593, 0.387, 0.196]
for c, s in enumerate(structures):
    off = c * 0.334
    lax.text(off + 0.155, 0.856, s, ha="center", va="center", fontsize=23.5,
             family="Liberation Sans")
    for k, lab in enumerate(variants):
        lax.plot([off + 0.027, off + 0.128], [row_y[k], row_y[k]], color=colors[s],
                 lw=3, linestyle=dash_styles[k])
        lax.text(off + 0.162, row_y[k], lab, ha="left", va="center", fontsize=23.5,
                 family="Liberation Sans")

fig.savefig("out.png", dpi=100)
